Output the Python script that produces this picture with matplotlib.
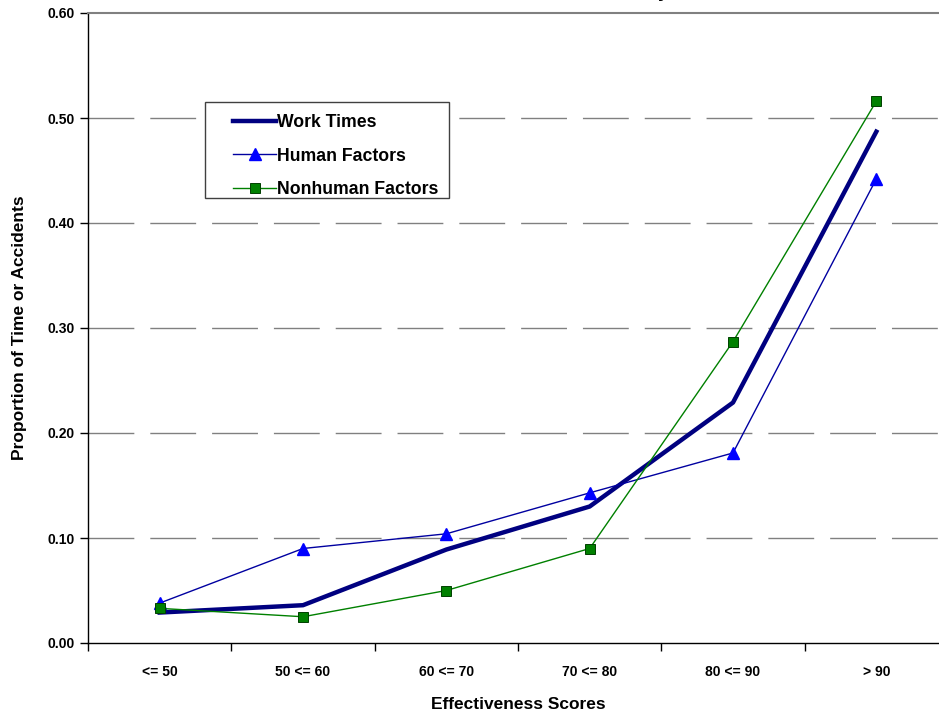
import numpy as np
import matplotlib
matplotlib.use('Agg')
import matplotlib.pyplot as plt
from matplotlib.patches import Rectangle

plt.rcParams['font.family'] = ['Liberation Sans', 'DejaVu Sans']

# Data
categories = ['<= 50', '50 <= 60', '60 <= 70', '70 <= 80', '80 <= 90', '> 90']
work_times = [0.029, 0.036, 0.089, 0.130, 0.229, 0.487]
human_factors = [0.038, 0.090, 0.104, 0.143, 0.181, 0.442]
nonhuman_factors = [0.033, 0.025, 0.050, 0.090, 0.287, 0.516]

fig = plt.figure(figsize=(9.39, 7.17), dpi=100)
ax = fig.add_axes([88 / 939, 74 / 717, 860 / 939, 630 / 717])

x = np.arange(len(categories)) + 0.5

ax.plot(x, work_times, color='#000080', lw=3.2, label='Work Times', zorder=3)
ax.plot(x, human_factors, color='#0000A0', lw=1.0, marker='^', markersize=9,
        markerfacecolor='#0000FF', markeredgecolor='#0000FF', label='Human Factors', zorder=4)
ax.plot(x, nonhuman_factors, color='#008000', lw=1.0, marker='s', markersize=6.5,
        markerfacecolor='#008000', markeredgecolor='#004000', markeredgewidth=0.7,
        label='Nonhuman Factors', zorder=4)

ax.set_xlim(0, 6)
ax.set_ylim(0, 0.60)

# category labels at centres, tick marks on the boundaries
ax.set_xticks(x)
ax.set_xticklabels(categories, fontsize=10, fontweight='bold')
ax.set_xticks(np.arange(0, 7), minor=True)
ax.tick_params(axis='x', which='major', length=0, pad=16)
ax.tick_params(axis='x', which='minor', length=6, direction='out', width=1)

yticks = np.arange(0, 0.61, 0.10)
ax.set_yticks(yticks)
ax.set_yticklabels([f'{v:.2f}' for v in yticks], fontsize=10, fontweight='bold')
ax.tick_params(axis='y', length=6, direction='out', width=1)

for v in yticks[1:-1]:
    ax.axhline(v, color='#808080', lw=1.0, dashes=(33, 11.5), zorder=1)

ax.spines['right'].set_visible(False)
ax.spines['top'].set_color('#808080')
ax.spines['top'].set_linewidth(1.5)
ax.spines['left'].set_linewidth(1.0)
ax.spines['bottom'].set_linewidth(1.0)

ax.set_xlabel('Effectiveness Scores', fontsize=12.5, fontweight='bold', labelpad=13)
ax.set_ylabel('Proportion of Time or Accidents', fontsize=12.5, fontweight='bold', labelpad=15)

# legend box drawn separately so the padding can be uneven like the original
ax.add_patch(Rectangle((0.136, 0.706), 0.284, 0.153, transform=ax.transAxes,
                       facecolor='white', edgecolor='#404040', lw=1.0, zorder=5))
leg = ax.legend(loc='upper left', bbox_to_anchor=(0.1686, 0.840), frameon=False,
                prop={'weight': 'bold', 'size': 12.7},
                handlelength=2.45, handletextpad=0.05, borderpad=0, labelspacing=0.95,
                borderaxespad=0)
leg.set_zorder(6)

# title is cut off by the top of the picture, only a descender shows
fig.text(663 / 939, 1.004, 'y', ha='center', va='baseline', fontsize=14, fontweight='bold')

fig.savefig('out.png', dpi=100)
